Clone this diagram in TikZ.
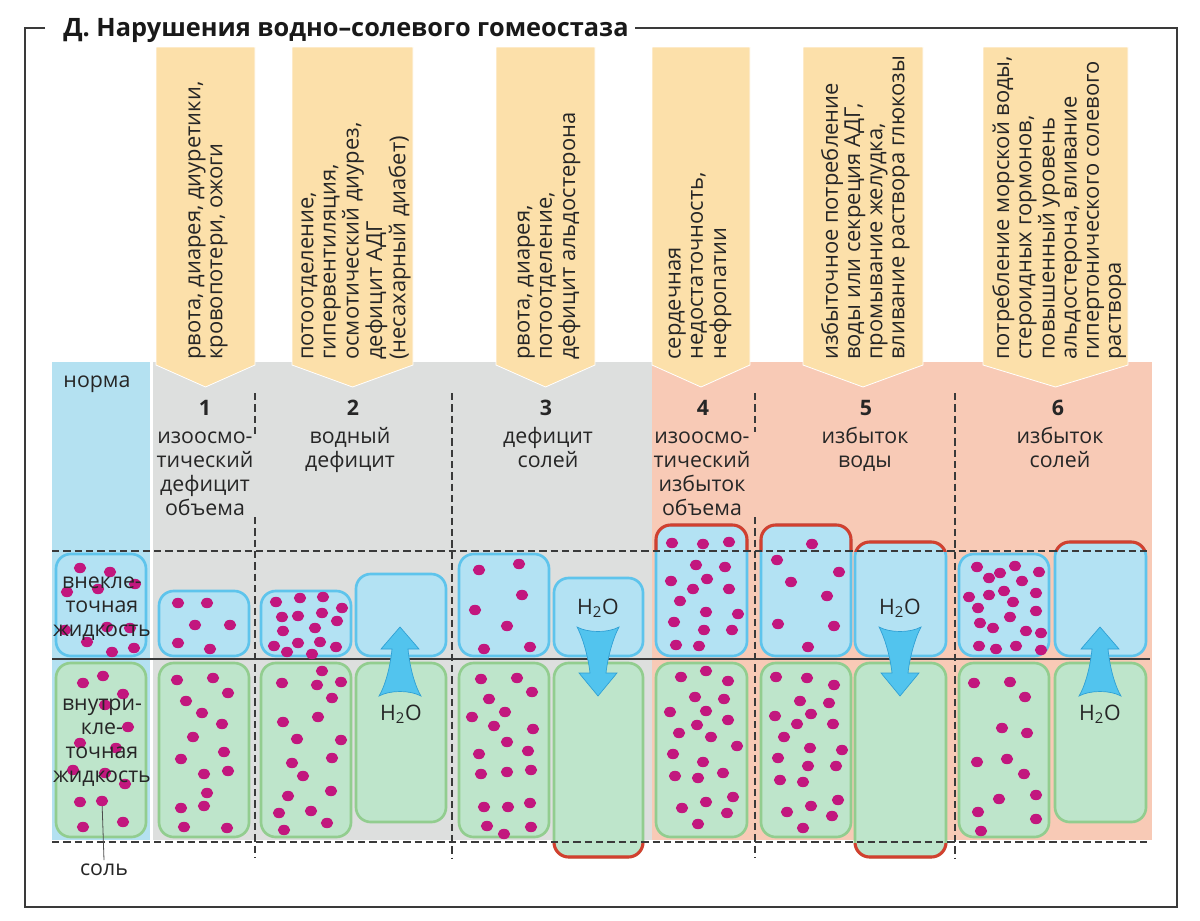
\documentclass[tikz,border=0pt]{standalone}
\usepackage{fontspec}
\setmainfont{Open Sans}
\definecolor{grayBg}{HTML}{DDDFDE}
\definecolor{pinkBg}{HTML}{F8CAB6}
\definecolor{normaBg}{HTML}{B4E1F1}
\definecolor{labFill}{HTML}{FCE0AA}
\definecolor{ecfFill}{HTML}{B3E2F3}
\definecolor{ecfLine}{HTML}{5EC4EC}
\definecolor{icfFill}{HTML}{BEE5CB}
\definecolor{icfLine}{HTML}{92CD8F}
\definecolor{dotCol}{HTML}{C2177E}
\definecolor{redLine}{HTML}{D2402F}
\definecolor{arrFill}{HTML}{52C4EE}
\definecolor{arrLine}{HTML}{2E9FD4}
\definecolor{lineDark}{HTML}{3A3A3A}
\newcommand\tlc[1]{\begin{tabular}[t]{@{}c@{}}#1\end{tabular}}
\newcommand\tll[1]{\begin{tabular}[t]{@{}l@{}}#1\end{tabular}}
\newcommand\colfont{\fontsize{16}{18}\selectfont}
\newcommand\rotfont{\fontsize{16.45}{16.6}\selectfont}
\newcommand\ttlfont{\fontsize{19}{22}\selectfont\bfseries}
\newcommand\hho{H\textsubscript{2}O}
\begin{document}
\begin{tikzpicture}[x=0.75pt,y=-0.75pt,
 ecf/.style={fill=ecfFill, draw=ecfLine, line width=2pt, rounded corners=11pt},
 icf/.style={fill=icfFill, draw=icfLine, line width=2pt, rounded corners=11pt},
 redl/.style={draw=redLine, line width=2.3pt, rounded corners=11pt},
 dashln/.style={draw=lineDark, line width=1.1pt, dash pattern=on 5.5pt off 3pt},
 lab/.style={fill=labFill, draw=white, line width=0.6pt},
 rotlab/.style={rotate=90, anchor=west, inner sep=0pt, font=\rotfont, text=black!85},
 colnum/.style={anchor=base, inner sep=0pt, font=\colfont\bfseries, text=black!85},
 coltxt/.style={anchor=base, inner sep=0pt, font=\colfont, text=black!85},
 dotst/.style={fill=dotCol},
 arr/.style={fill=arrFill, draw=arrLine, line width=0.5pt},
 frameln/.style={draw=lineDark, line width=1.2pt}]
\useasboundingbox (0,0) rectangle (1200,921);
\fill[white] (0,0) rectangle (1200,921);
% frame and title
\node[anchor=base west, inner sep=0pt, font=\ttlfont, text=black!90] (title) at (63,36) {Д. Нарушения водно–солевого гомеостаза};
\draw[frameln] (45,28) -- (25,28) -- (25,907) -- (1177,907) -- (1177,28) -- (635,28);
% backgrounds
\fill[normaBg] (52,362) rectangle (150,840);
\fill[grayBg] (153,362) rectangle (652,840);
\fill[pinkBg] (652,362) rectangle (1152,840);
% cause labels
\foreach \a/\b in {156/255, 292/413, 496/595, 652/750, 803/923, 983/1128}
  \filldraw[lab] (\a,47) -- (\b,47) -- (\b,365) -- ({(\a+\b)/2},387) -- (\a,365) -- cycle;
\node[rotlab] (c1) at (207,360) {\tll{рвота, диарея, диуретики,\\кровопотери, ожоги}};
\node[rotlab] (c2) at (355,360) {\tll{потоотделение,\\гипервентиляция,\\осмотический диурез,\\дефицит АДГ\\(несахарный диабет)}};
\node[rotlab] (c3) at (548,360) {\tll{рвота, диарея,\\потоотделение,\\дефицит альдостерона}};
\node[rotlab] (c4) at (699,360) {\tll{сердечная\\недостаточность,\\нефропатии}};
\node[rotlab] (c5) at (866,360) {\tll{избыточное потребление\\воды или секреция АДГ,\\промывание желудка,\\вливание раствора глюкозы}};
\node[rotlab] (c6) at (1060,360) {\tll{потребление морской воды,\\стероидных гормонов,\\повышенный уровень\\альдостерона, вливание\\гипертонического солевого\\раствора}};
% fluid boxes
\foreach \a/\b/\c/\d in {56/554/146/656, 159/591/249/656, 261/591/351/656, 356/574/446/656, 459/554/549/656, 554/578/643/656, 656/525/747/656, 761/525/851/656, 855/542/946/656, 959/554/1049/656, 1055/542/1146/656}
  \draw[ecf] (\a,\b) rectangle (\c,\d);
\foreach \a/\b/\c/\d in {56/663/146/837, 159/663/249/837, 261/663/351/837, 356/663/446/822, 459/663/549/837, 554/663/643/857, 656/663/747/837, 761/663/851/837, 855/663/946/857, 959/663/1049/837, 1055/663/1146/822}
  \draw[icf] (\a,\b) rectangle (\c,\d);
\begin{scope}
  \clip (0,0) rectangle (1200,551);
  \foreach \a/\b/\c/\d in {656/525/747/656, 761/525/851/656, 855/542/946/656, 1055/542/1146/656}
    \draw[redl] (\a,\b) rectangle (\c,\d);
\end{scope}
\begin{scope}
  \clip (0,843) rectangle (1200,921);
  \foreach \a/\b/\c/\d in {554/663/643/857, 855/663/946/857}
    \draw[redl] (\a,\b) rectangle (\c,\d);
\end{scope}
% dashed guide lines
\draw[dashln] (52,551) -- (1150,551);
\draw[dashln] (52,842) -- (1150,842);
\draw[dashln] (255,393) -- (255,438);
\draw[dashln] (255,517) -- (255,858);
\draw[dashln] (452,393) -- (452,858);
\draw[dashln] (755,393) -- (755,432);
\draw[dashln] (755,517) -- (755,858);
\draw[dashln] (955,393) -- (955,858);
\draw[draw=lineDark, line width=1.3pt] (52,659) -- (1150,659);
% salt pointer
\coordinate (saltdot) at (102,801);
\node[coltxt, anchor=north, inner sep=3pt] (salt) at (104,860) {соль};
\draw[draw=black!70, line width=0.6pt] (saltdot) -- (salt.north);
% dots
\foreach \x/\y in {80/568,110/572,135/584,67/592,98/589,130/628,87/642,112/652,134/648,107/627,65/630,
 83/683,103/676,123/694,105/705,128/727,80/743,116/748,73/770,105/773,125/784,80/802,102/801,83/827,123/822,
 178/603,207/603,195/625,230/625,178/643,210/649,
 177/680,213/678,228/693,186/701,202/713,222/724,193/737,224/752,181/759,204/774,228/771,207/793,181/808,204/806,184/827,227/828,
 276/602,300/598,323/597,342/608,282/617,298/616,322/613,337/621,283/631,315/628,274/646,287/652,298/643,320/642,336/647,312/654,
 322/671,282/683,317/685,341/682,332/698,283/722,318/717,297/739,341/740,292/763,332/758,303/776,288/796,331/791,279/813,311/811,327/823,284/830,
 479/570,519/564,522/595,475/610,507/626,484/649,530/647,
 481/679,517/678,532/692,489/699,505/712,472/717,494/726,533/729,507/742,479/754,528/751,481/774,507/772,531/770,484/807,508/807,530/803,487/826,504/834,531/827,
 672/543,703/544,729/542,696/565,725/567,671/581,707/579,693/589,729/589,680/601,706/612,738/614,674/622,704/630,732/630,676/645,699/646,
 681/677,706/671,728/681,695/697,724/699,670/712,706/711,728/720,679/733,697/725,711/737,737/746,673/754,703/762,675/776,698/778,723/773,733/797,682/808,706/802,727/813,698/824,
 812/544,777/560,839/572,791/582,827/596,778/624,834/626,808/647,
 776/677,807/678,834/685,800/701,829/703,775/716,811/714,797/724,833/724,784/737,810/748,842/750,778/758,808/766,836/766,780/780,803/782,787/812,811/806,838/800,832/816,803/828,
 977/567,989/578,1000/573,1015/566,1022/581,1039/572,969/597,989/595,1004/591,1013/602,1036/593,978/608,1010/617,1036/611,980/623,993/628,1026/631,1041/633,979/646,996/649,1016/646,1041/650,
 974/683,1010/682,1025/697,1002/728,1027/733,977/762,1007/759,1024/774,999/799,1036/795,978/812,1036/819,981/831}
  \fill[dotst] (\x,\y) ellipse [x radius=4.6pt, y radius=3.9pt];
% water arrows
\foreach \cx in {400,1100}
  \filldraw[arr] (\cx,627) -- ({\cx+19},649) -- ({\cx+8},649) .. controls ({\cx+10},670) and ({\cx+16},688) .. ({\cx+21},696) .. controls ({\cx+10},690) and ({\cx-10},690) .. ({\cx-21},696) .. controls ({\cx-16},688) and ({\cx-10},670) .. ({\cx-8},649) -- ({\cx-19},649) -- cycle;
\foreach \cx in {598,900}
  \filldraw[arr] ({\cx-21},627) .. controls ({\cx-10},633) and ({\cx+10},633) .. ({\cx+21},627) .. controls ({\cx+16},636) and ({\cx+10},655) .. ({\cx+8},673) -- ({\cx+19},673) -- (\cx,696) -- ({\cx-19},673) -- ({\cx-8},673) .. controls ({\cx-10},655) and ({\cx-16},636) .. ({\cx-21},627) -- cycle;
\node[coltxt] (w2) at (401,720) {\hho};
\node[coltxt] (w3) at (598,614) {\hho};
\node[coltxt] (w5) at (900,614) {\hho};
\node[coltxt] (w6) at (1100,720) {\hho};
% column headings
\node[coltxt] (norma) at (97,387) {норма};
\node[coltxt] (ecfN) at (102,588) {\tlc{внекле-\\точная\\жидкость}};
\node[coltxt] (icfN) at (102,710) {\tlc{внутри-\\кле-\\точная\\жидкость}};
\node[colnum] (n1) at (205,415) {1};
\node[colnum] (n2) at (353,415) {2};
\node[colnum] (n3) at (546,415) {3};
\node[colnum] (n4) at (703,415) {4};
\node[colnum] (n5) at (866,415) {5};
\node[colnum] (n6) at (1058,415) {6};
\node[coltxt] (d1) at (205,443) {\tlc{изоосмо-\\тический\\дефицит\\объема}};
\node[coltxt] (d2) at (350,443) {\tlc{водный\\дефицит}};
\node[coltxt] (d3) at (548,443) {\tlc{дефицит\\солей}};
\node[coltxt] (d4) at (702,443) {\tlc{изоосмо-\\тический\\избыток\\объема}};
\node[coltxt] (d5) at (865,443) {\tlc{избыток\\воды}};
\node[coltxt] (d6) at (1060,443) {\tlc{избыток\\солей}};
\end{tikzpicture}
\end{document}
